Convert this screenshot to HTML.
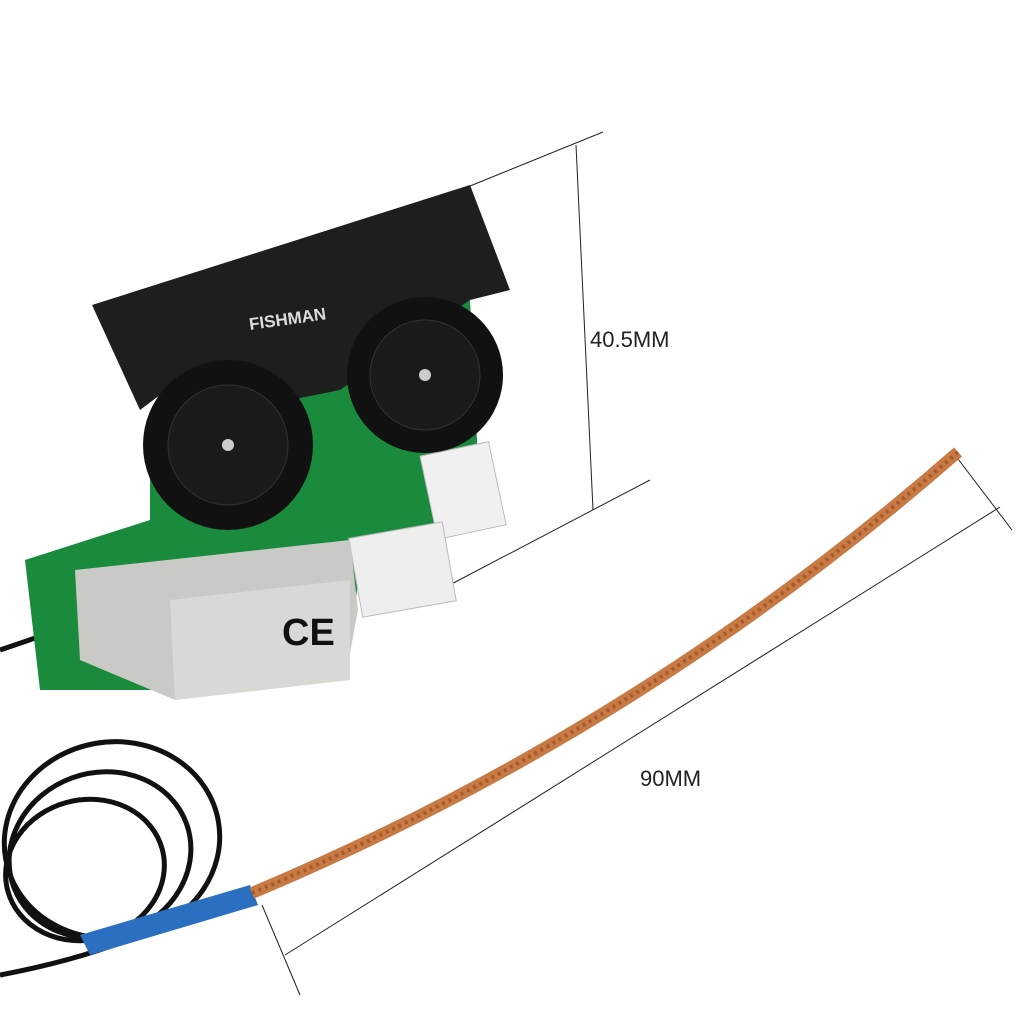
<!DOCTYPE html>
<html><head><meta charset="utf-8"><style>
html,body{margin:0;padding:0;background:#fff;width:1024px;height:1024px;overflow:hidden}
</style></head><body>
<svg width="1024" height="1024" viewBox="0 0 1024 1024" xmlns="http://www.w3.org/2000/svg">
<rect width="1024" height="1024" fill="#fff"/>
<g stroke="#222" stroke-width="1" fill="none">
<line x1="470" y1="186" x2="603" y2="132"/>
<line x1="576" y1="145" x2="593" y2="510"/>
<line x1="440" y1="590" x2="650" y2="480"/>
<line x1="955" y1="455" x2="1012" y2="530"/>
<line x1="262" y1="905" x2="300" y2="995"/>
<line x1="285" y1="955" x2="1000" y2="507"/>
</g>
<text x="590" y="347" font-family="Liberation Sans, sans-serif" font-size="22" fill="#222">40.5MM</text>
<text x="640" y="786" font-family="Liberation Sans, sans-serif" font-size="22" fill="#222">90MM</text>

<g fill="none" stroke="#111" stroke-width="5">
<ellipse cx="112" cy="840" rx="108" ry="98" transform="rotate(-10 112 840)"/>
<ellipse cx="100" cy="855" rx="92" ry="82" transform="rotate(-20 100 855)"/>
<ellipse cx="85" cy="870" rx="80" ry="70" transform="rotate(-15 85 870)"/>
<path d="M0 650 Q60 630 110 610"/>
<path d="M0 975 Q80 960 140 935 L250 895"/>
</g>
<path d="M80 935 L250 885 L258 905 L90 955 Z" fill="#2b6fc0"/>
<path d="M252 893 Q640 730 958 452" fill="none" stroke="#c87a45" stroke-width="12"/>
<path d="M252 893 Q640 730 958 452" fill="none" stroke="#a85a2a" stroke-width="4" stroke-dasharray="3 4"/>

<path d="M150 420 L350 380 L470 300 L480 500 L440 540 L360 560 L355 610 L170 690 L40 690 L25 560 L150 520 Z" fill="#1a8a3c"/>
<rect x="428" y="448" width="70" height="85" fill="#f0f0f0" stroke="#bbb" transform="rotate(-12 463 490)"/>
<rect x="355" y="530" width="95" height="80" fill="#eeeeee" stroke="#bbb" transform="rotate(-10 400 570)"/>
<path d="M75 570 L350 540 L358 610 L345 680 L175 700 L80 660 Z" fill="#c9c9c6"/>
<path d="M170 600 L350 580 L350 680 L175 700 Z" fill="#d8d8d5"/>
<text x="282" y="645" font-family="Liberation Sans, sans-serif" font-size="38" font-weight="bold" fill="#111">CE</text>
<path d="M92 305 L470 185 L510 290 L470 300 L340 390 L290 400 L180 380 L140 410 Z" fill="#1e1e1e"/>
<text x="250" y="330" font-family="Liberation Sans, sans-serif" font-size="17" font-weight="bold" fill="#ddd" transform="rotate(-8 250 330)">FISHMAN</text>
<circle cx="425" cy="375" r="78" fill="#111"/>
<circle cx="425" cy="375" r="55" fill="#1a1a1a" stroke="#333"/>
<circle cx="425" cy="375" r="6" fill="#ccc"/>
<circle cx="228" cy="445" r="85" fill="#111"/>
<circle cx="228" cy="445" r="60" fill="#1a1a1a" stroke="#333"/>
<circle cx="228" cy="445" r="6" fill="#ccc"/>
</svg>
</body></html>
